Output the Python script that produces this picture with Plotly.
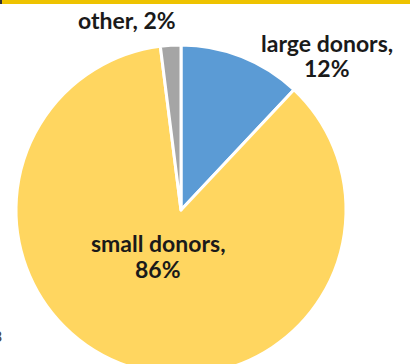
import plotly.graph_objects as go

# Share of donations by donor type
categories = ["large donors", "small donors", "other"]
shares = [12, 86, 2]
slice_colors = ["#5B9BD5", "#FFD660", "#A5A5A5"]

W, H = 410, 382
cx, cy, r = 181, 210, 165  # pie centre and radius in pixels (from top-left)

fig = go.Figure(
    go.Pie(
        labels=categories,
        values=shares,
        sort=False,
        direction="clockwise",
        rotation=0,
        marker=dict(colors=slice_colors, line=dict(color="white", width=3)),
        textinfo="none",
        hoverinfo="label+percent",
        showlegend=False,
        domain=dict(
            x=[(cx - r) / W, (cx + r) / W],
            y=[1 - (cy + r) / H, 1 - (cy - r) / H],
        ),
    )
)

label_font = dict(family="Lato, sans-serif", size=23, color="#1a1a1a")
# (x, y of first line, y of second line) in pixels from top-left
label_pos = {
    "large donors": (327, 43, 68),
    "small donors": (158, 243, 269),
    "other": (127, 20, None),
}
annotations = []


def add_text(text, x, y):
    annotations.append(
        dict(
            x=x / W, y=1 - y / H, xref="paper", yref="paper",
            text=f"<b>{text}</b>", showarrow=False, font=label_font,
            xanchor="center", yanchor="middle",
        )
    )


for name, val in zip(categories, shares):
    x, y1, y2 = label_pos[name]
    if y2 is None:
        add_text(f"{name}, {val}%", x, y1)
    else:
        add_text(f"{name},", x, y1)
        add_text(f"{val}%", x, y2)

annotations.append(
    dict(x=4 / W, y=1 - 335 / H, xref="paper", yref="paper", text="3",
         showarrow=False, xanchor="right", yanchor="middle",
         font=dict(family="Lato, sans-serif", size=16, color="#444"))
)

fig.update_layout(
    width=W,
    height=H,
    margin=dict(l=0, r=0, t=0, b=0),
    paper_bgcolor="white",
    plot_bgcolor="white",
    annotations=annotations,
    shapes=[
        dict(type="rect", xref="paper", yref="paper", x0=0, x1=1,
             y0=1 - 4 / H, y1=1, fillcolor="#EEC300", line=dict(width=0)),
        dict(type="rect", xref="paper", yref="paper", x0=0, x1=2 / W,
             y0=1 - 4 / H, y1=1, fillcolor="#333333", line=dict(width=0)),
    ],
)

fig.write_html(
    "out.html",
    post_script="document.documentElement.style.overflow='hidden';document.body.style.overflow='hidden';document.body.style.margin='0';",
)
